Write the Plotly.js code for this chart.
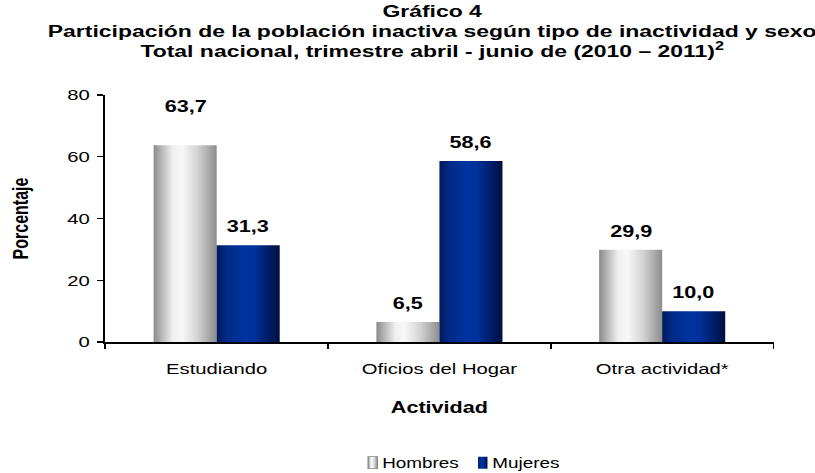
<!DOCTYPE html>
<html>
<head>
<meta charset="utf-8">
<script src="https://cdn.plot.ly/plotly-3.0.1.min.js"></script>
<style>
  html, body { margin: 0; padding: 0; background: #fff; overflow: hidden; }
  #chart { width: 604px; height: 473px; transform: scaleX(1.35); transform-origin: 0 0; }
</style>
</head>
<body>
<div id="chart"></div>
<script>
// ---- data ----
const categories = ['Estudiando', 'Oficios del Hogar', 'Otra actividad*'];
const seriesNames = ['Hombres', 'Mujeres'];
const hombres = [63.7, 6.5, 29.9];
const mujeres = [31.3, 58.6, 10.0];
const yTickValues = [0, 20, 40, 60, 80];

// ---- styling ----
const SX = 1.35;
const FONT = 'Liberation Sans, Arial, sans-serif';
const BARGAP = 0.434;
const baseColors = ['#c8c8c8', '#002f8e'];
const gradIds = ['gradGray', 'gradBlue'];
const gradStops = [
  [[0, '#8a8a8a'], [0.12, '#b4b4b4'], [0.3, '#efefef'], [0.45, '#f8f8f8'], [0.7, '#d2d2d2'], [0.88, '#a9a9a9'], [1, '#8c8c8c']],
  [[0, '#00185a'], [0.15, '#002a85'], [0.45, '#0033a0'], [0.6, '#00309a'], [0.85, '#001a60'], [1, '#000f40']]
];
const labelLift = { 0: [20, 0, 0], 1: [0, 0, 0] }; // extra px above bar for individual labels

const allSeries = [hombres, mujeres];
const fmt = v => v.toFixed(1).replace('.', ',');

const traces = allSeries.map((vals, s) => ({
  type: 'bar',
  name: seriesNames[s],
  x: categories,
  y: vals,
  marker: { color: baseColors[s], line: { width: 0 } },
  hoverinfo: 'skip'
}));

const annotations = [];
allSeries.forEach((vals, s) => {
  const off = (s === 0 ? -1 : 1) * (1 - BARGAP) / 4;
  vals.forEach((v, i) => {
    annotations.push({
      x: i + off, y: v, xref: 'x', yref: 'y',
      text: '<b>' + fmt(v) + '</b>',
      showarrow: false, yanchor: 'bottom', xanchor: 'center',
      yshift: 8 + labelLift[s][i],
      font: { family: FONT, size: 16, color: '#000' }
    });
  });
});

const layout = {
  width: 604, height: 473,
  margin: { l: 78, r: 31, t: 95, b: 131, pad: 0 },
  paper_bgcolor: '#fff', plot_bgcolor: '#fff',
  font: { family: FONT, color: '#000' },
  title: {
    text: '<b>Gráfico 4<br>Participación de la población inactiva según tipo de inactividad y sexo<br>Total nacional, trimestre abril - junio de (2010 – 2011)<sup>2</sup></b>',
    font: { family: FONT, size: 17, color: '#000' },
    x: 0.53, xref: 'container', xanchor: 'center',
    y: 0.963, yref: 'container', yanchor: 'top'
  },
  barmode: 'group', bargap: BARGAP, bargroupgap: 0,
  showlegend: true,
  legend: {
    orientation: 'h', x: 0.5, xanchor: 'center', xref: 'paper',
    y: 0.021, yref: 'container', yanchor: 'middle',
    font: { family: FONT, size: 14, color: '#000' },
    itemwidth: 30, traceorder: 'normal'
  },
  xaxis: {
    type: 'category', categoryorder: 'array', categoryarray: categories,
    showline: true, linecolor: '#000', linewidth: 1.8,
    ticks: 'outside', tickson: 'boundaries', ticklen: 5, tickcolor: '#000', tickwidth: 1.3,
    ticklabelstandoff: 12,
    tickfont: { family: FONT, size: 15, color: '#000' },
    showgrid: false, zeroline: false,
    title: { text: '<b>Actividad</b>', font: { family: FONT, size: 16, color: '#000' }, standoff: 26 },
    automargin: false, fixedrange: true
  },
  yaxis: {
    range: [0, 80], tickvals: yTickValues, ticktext: yTickValues.map(String),
    showline: true, linecolor: '#000', linewidth: 1.5,
    ticks: 'outside', ticklen: 5, tickcolor: '#000', tickwidth: 1.3,
    ticklabelstandoff: 2,
    tickfont: { family: FONT, size: 15, color: '#000' },
    showgrid: false, zeroline: false,
    title: { text: '<b>Porcentaje</b>', font: { family: FONT, size: 16, color: '#000' }, standoff: 24 },
    automargin: false, fixedrange: true
  },
  annotations: annotations
};

function parseTranslate(el) {
  const t = el.getAttribute('transform') || '';
  const m = /translate\(\s*([-\d.e]+)[\s,]+([-\d.e]+)\s*\)/.exec(t);
  return m ? [parseFloat(m[1]), parseFloat(m[2])] : [0, 0];
}

Plotly.newPlot('chart', traces, layout, { displayModeBar: false, staticPlot: true, responsive: false }).then(gd => {
  const NS = 'http://www.w3.org/2000/svg';
  const svg = gd.querySelector('.main-svg');
  let defs = svg.querySelector('defs');
  if (!defs) { defs = document.createElementNS(NS, 'defs'); svg.insertBefore(defs, svg.firstChild); }
  gradIds.forEach((id, k) => {
    const lg = document.createElementNS(NS, 'linearGradient');
    lg.setAttribute('id', id);
    lg.setAttribute('x1', '0'); lg.setAttribute('y1', '0');
    lg.setAttribute('x2', '1'); lg.setAttribute('y2', '0');
    gradStops[k].forEach(([o, c]) => {
      const st = document.createElementNS(NS, 'stop');
      st.setAttribute('offset', o);
      st.setAttribute('stop-color', c);
      lg.appendChild(st);
    });
    defs.appendChild(lg);
  });
  // bars
  gd.querySelectorAll('.barlayer .trace').forEach((tr, k) => {
    tr.querySelectorAll('path').forEach(p => { p.style.fill = 'url(#' + gradIds[k] + ')'; });
  });
  // legend icons: narrow, close to the text
  const items = gd.querySelectorAll('.legend .traces');
  items.forEach((tr, k) => {
    tr.querySelectorAll('.legendpoints path').forEach(p => {
      p.setAttribute('d', 'M16.5,6H9.5V-6H16.5Z');
      p.style.fill = 'url(#' + gradIds[k] + ')';
      p.style.stroke = k === 0 ? '#888' : 'none';
      p.style.strokeWidth = k === 0 ? '0.8px' : '0';
    });
  });
  // legend item spacing
  if (items.length === 2) {
    const p0 = parseTranslate(items[0]);
    const p1 = parseTranslate(items[1]);
    items[1].setAttribute('transform', 'translate(' + (p0[0] + 81.5) + ',' + p1[1] + ')');
  }
  // place legend so that first icon starts at x=368 on screen
  const leg = gd.querySelector('.legend');
  const icon0 = items[0] && items[0].querySelector('.legendpoints path');
  if (leg && icon0) {
    const r = icon0.getBoundingClientRect();
    const delta = (368 - r.left) / SX;
    const lp = parseTranslate(leg);
    leg.setAttribute('transform', 'translate(' + (lp[0] + delta) + ',' + lp[1] + ')');
  }
  // tighter title line spacing
  gd.querySelectorAll('.gtitle tspan.line').forEach((t, i) => {
    t.setAttribute('dy', (i * 1.16) + 'em');
  });
});
</script>
</body>
</html>
